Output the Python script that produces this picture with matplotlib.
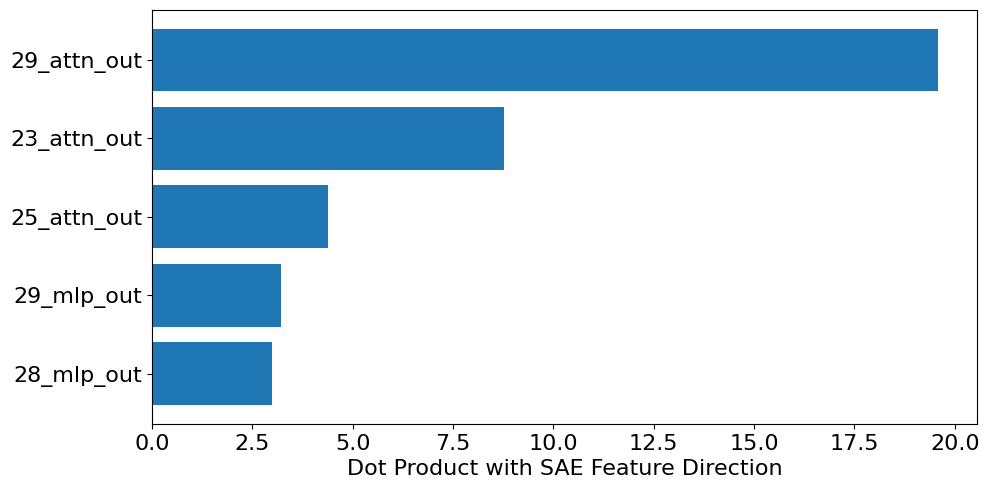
import matplotlib
matplotlib.use("Agg")
import matplotlib.pyplot as plt

labels = ["29_attn_out", "23_attn_out", "25_attn_out", "29_mlp_out", "28_mlp_out"]
values = [19.58, 8.77, 4.38, 3.21, 2.99]

plt.rcParams['font.size'] = 16
fig, ax = plt.subplots(figsize=(9.88, 4.9), dpi=100)
ax.barh(labels[::-1], values[::-1], color="#1f77b4")
ax.set_xlabel("Dot Product with SAE Feature Direction")
fig.subplots_adjust(left=0.154, right=0.989, top=0.98, bottom=0.135)
fig.savefig("out.png")
